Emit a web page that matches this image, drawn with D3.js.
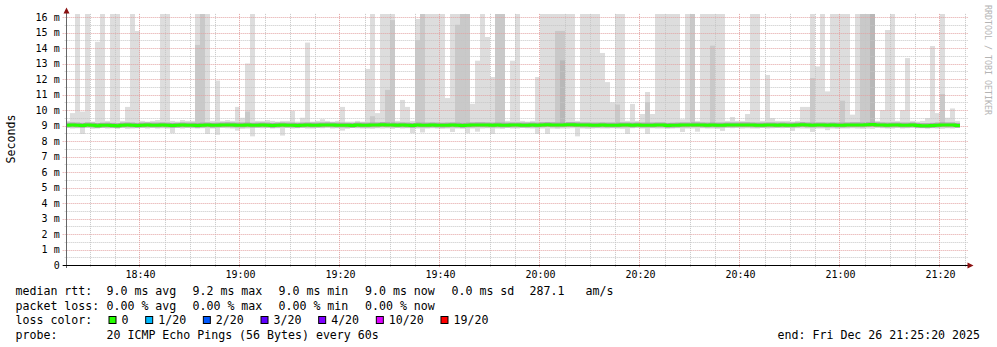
<!DOCTYPE html>
<html>
<head>
<meta charset="utf-8">
<script src="https://cdn.jsdelivr.net/npm/d3@7"></script>
<style>
  body { margin: 0; background: #fff; }
  svg text { font-family: "DejaVu Sans Mono", monospace; fill: #000; }
</style>
</head>
<body>
<svg id="chart" width="997" height="347"></svg>
<script>
// one smoke column per minute, first column is the minute starting 18:25
const graphStart = Date.UTC(2025, 11, 26, 18, 25, 20);
const graphEnd = Date.UTC(2025, 11, 26, 21, 25, 20);
const firstMinute = Date.UTC(2025, 11, 26, 18, 25, 0);

// highest ping of each minute (ms), tall ones are cut off by the graph top
const smokeHi = [
  9.3, 9.8, 16.2, 9.9, 16.2, 9.25, 14.4, 16.2, 9.3, 16.2,
  16.2, 9.3, 10.2, 16.2, 15.1, 9.3, 9.25, 9.3, 9.35, 16.2,
  16.2, 9.3, 9.25, 9.35, 9.3, 9.3, 16.2, 16.2, 16.2, 9.3,
  11.9, 9.3, 9.35, 9.3, 10.2, 9.5, 13.0, 16.2, 9.3, 9.3,
  9.35, 9.3, 9.25, 9.3, 9.3, 9.95, 9.25, 9.5, 14.35, 9.25,
  9.3, 9.4, 9.3, 9.25, 9.3, 10.2, 9.25, 9.25, 9.3, 9.25,
  12.65, 16.2, 9.8, 16.2, 16.2, 16.2, 9.3, 10.65, 10.2, 9.3,
  15.87, 16.2, 16.2, 16.2, 16.2, 16.2, 10.77, 16.2, 16.2, 16.2,
  16.2, 10.4, 13.18, 16.2, 14.71, 12.13, 16.2, 16.2, 9.3, 13.18,
  16.2, 9.3, 9.25, 9.3, 12.13, 16.2, 16.2, 16.2, 16.2, 16.2,
  16.2, 16.2, 9.3, 16.2, 16.2, 16.2, 16.2, 13.68, 11.8, 10.5,
  16.2, 16.2, 9.3, 10.39, 9.3, 9.74, 11.16, 9.74, 16.2, 16.2,
  16.2, 16.2, 16.2, 9.4, 16.2, 16.2, 9.3, 16.2, 16.2, 16.2,
  16.2, 16.2, 9.3, 9.55, 9.3, 9.3, 9.74, 16.2, 16.2, 9.3,
  12.26, 9.48, 9.3, 9.3, 9.3, 9.25, 9.3, 10.2, 10.2, 16.2,
  12.81, 16.2, 11.2, 16.2, 16.2, 16.2, 16.2, 9.7, 16.2, 16.2,
  16.2, 16.2, 9.3, 10.0, 15.16, 16.2, 9.3, 10.0, 13.35, 9.3,
  9.25, 9.3, 9.48, 14.13, 9.8, 16.2, 9.5, 10.1, 9.3
];

// lowest ping of each minute (ms)
const smokeLo = [
  8.85, 8.8, 8.82, 8.45, 8.85, 8.78, 8.8, 8.85, 8.8, 8.82,
  8.8, 8.85, 8.78, 8.8, 8.82, 8.85, 8.8, 8.85, 8.8, 8.82,
  8.8, 8.5, 8.85, 8.8, 8.85, 8.82, 8.8, 8.82, 8.45, 8.8,
  8.4, 8.85, 8.82, 8.8, 8.67, 8.78, 8.8, 8.3, 8.85, 8.82,
  8.85, 8.8, 8.82, 8.35, 8.85, 8.8, 8.82, 8.85, 8.8, 8.8,
  8.85, 8.82, 8.85, 8.8, 8.82, 8.67, 8.78, 8.85, 8.82, 8.8,
  8.8, 8.78, 8.82, 8.8, 8.82, 8.78, 8.85, 8.8, 8.82, 8.5,
  8.8, 8.55, 8.8, 8.82, 8.8, 8.78, 8.8, 8.58, 8.8, 8.78,
  8.5, 8.8, 8.6, 8.8, 8.82, 8.45, 8.8, 8.78, 8.85, 8.8,
  8.8, 8.85, 8.82, 8.8, 8.45, 8.8, 8.45, 8.8, 8.78, 8.8,
  8.8, 8.82, 8.3, 8.8, 8.78, 8.8, 8.82, 8.8, 8.8, 8.82,
  8.8, 8.78, 8.45, 8.82, 8.85, 8.8, 8.45, 8.82, 8.8, 8.8,
  8.78, 8.8, 8.82, 8.58, 8.8, 8.8, 8.6, 8.82, 8.8, 8.8,
  8.78, 8.65, 8.85, 8.82, 8.85, 8.8, 8.82, 8.8, 8.8, 8.85,
  8.8, 8.82, 8.85, 8.82, 8.85, 8.65, 8.82, 8.8, 8.8, 8.58,
  8.8, 8.8, 8.7, 8.8, 8.78, 8.8, 8.8, 8.82, 8.8, 8.78,
  8.8, 8.78, 8.85, 8.82, 8.8, 8.8, 8.85, 8.8, 8.82, 8.85,
  8.82, 8.85, 8.8, 8.82, 8.8, 8.78, 8.82, 8.8, 8.85
];

// median rtt of each minute (ms)
const medianRtt = [
  9.02, 9.03, 9.02, 9.0, 9.03, 9.02, 8.99, 9.01, 9.02, 9.0,
  8.98, 9.02, 9.03, 9.02, 9.0, 9.02, 9.03, 9.02, 9.02, 9.03,
  9.02, 9.0, 9.01, 9.03, 9.02, 9.02, 9.0, 9.02, 9.03, 9.01,
  9.02, 9.03, 9.04, 9.03, 9.02, 9.02, 9.03, 9.01, 9.02, 9.03,
  9.02, 9.0, 9.02, 9.03, 9.02, 9.02, 9.0, 9.02, 9.03, 9.02,
  9.02, 9.03, 9.04, 9.03, 9.02, 9.02, 9.01, 9.0, 9.03, 9.02,
  9.02, 9.03, 9.03, 9.05, 9.04, 9.03, 9.02, 9.03, 9.02, 9.0,
  9.03, 9.02, 9.02, 9.03, 9.02, 9.01, 9.02, 9.03, 9.02, 9.0,
  9.02, 9.03, 9.04, 9.04, 9.03, 9.02, 9.03, 9.02, 9.02, 9.03,
  9.03, 9.02, 9.02, 9.03, 9.02, 9.04, 9.05, 9.04, 9.03, 9.04,
  9.05, 9.05, 9.04, 9.03, 9.03, 9.02, 9.02, 9.03, 9.02, 9.02,
  9.02, 9.03, 9.03, 9.02, 9.03, 9.02, 9.02, 9.02, 9.03, 9.03,
  9.0, 9.01, 9.02, 9.03, 9.03, 9.04, 9.04, 9.03, 9.02, 9.03,
  9.02, 9.02, 9.03, 9.03, 9.03, 9.04, 9.04, 9.03, 9.02, 9.02,
  9.03, 9.03, 9.02, 9.03, 9.02, 9.02, 9.03, 9.05, 9.03, 9.02,
  9.03, 9.03, 9.02, 9.03, 9.02, 9.02, 9.03, 9.04, 9.04, 9.03,
  9.05, 9.06, 9.04, 9.03, 9.02, 9.03, 9.03, 9.02, 9.02, 9.03,
  9.0, 8.98, 8.98, 9.0, 9.02, 9.04, 9.03, 9.03, 9.0
];

// second smoke layer: [column, top ms] where more than one ping was slow
const innerTop = [
  [26, 14.2], [27, 16.2], [36, 9.9], [61, 9.6], [64, 11.3], [65, 15.8],
  [70, 14.5], [71, 16.2], [78, 15.5], [79, 16.2], [80, 16.2], [86, 16.2],
  [87, 16.2], [98, 15.1], [99, 15.1], [110, 10.35], [116, 10.5], [125, 16.2],
  [129, 14.15], [149, 12.06], [155, 10.6], [159, 16.2], [160, 16.2],
  [161, 16.2], [175, 11.03]
];
// third smoke layer
const deepTop = [[99, 13.2], [161, 16.2]];

const yTicks = [0, 1, 2, 3, 4, 5, 6, 7, 8, 9, 10, 11, 12, 13, 14, 15, 16];
const xTickLabels = ["18:40", "19:00", "19:20", "19:40", "20:00", "20:20", "20:40", "21:00", "21:20"];

const lossLabels = ["0", "1/20", "2/20", "3/20", "4/20", "10/20", "19/20"];
const lossColors = ["#26ff00", "#00b8ff", "#0059ff", "#5e00ff", "#7e00ff", "#dd00ff", "#ff0000"];

const rttStats = ["9.0 ms avg", "9.2 ms max", "9.0 ms min", "9.0 ms now", "0.0 ms sd", "287.1", "am/s"];
const lossStats = ["0.00 % avg", "0.00 % max", "0.00 % min", "0.00 % now"];
const probeText = "20 ICMP Echo Pings (56 Bytes) every 60s";
const endLabel = "end: Fri Dec 26 21:25:20 2025";

const svg = d3.select("#chart");
const left = 66.67, right = 966.67, bottom = 265;

const x = d3.scaleUtc().domain([graphStart, graphEnd]).range([left, right]);
const y = d3.scaleLinear().domain([0, 16.2]).range([bottom, bottom - 16.2 * 15.5]);

svg.append("rect").attr("width", 997).attr("height", 347).attr("fill", "#fff");

svg.append("clipPath").attr("id", "plot")
  .append("rect")
  .attr("x", left).attr("y", y(16.2))
  .attr("width", right - left).attr("height", bottom - y(16.2));

const colStart = i => firstMinute + i * 60000;
const colX = i => x(colStart(i));
const colW = i => x(colStart(i + 1)) - x(colStart(i));

const smoke = svg.append("g").attr("clip-path", "url(#plot)");

smoke.selectAll("rect.outer")
  .data(smokeHi)
  .join("rect")
  .attr("class", "outer")
  .attr("x", (d, i) => colX(i))
  .attr("width", (d, i) => colW(i))
  .attr("y", d => y(d))
  .attr("height", (d, i) => y(smokeLo[i]) - y(d))
  .attr("fill", "#dddddd");

smoke.selectAll("rect.inner")
  .data(innerTop)
  .join("rect")
  .attr("class", "inner")
  .attr("x", d => colX(d[0]))
  .attr("width", d => colW(d[0]))
  .attr("y", d => y(d[1]))
  .attr("height", d => y(medianRtt[d[0]]) - y(d[1]))
  .attr("fill", "#c9c9c9");

smoke.selectAll("rect.deep")
  .data(deepTop)
  .join("rect")
  .attr("class", "deep")
  .attr("x", d => colX(d[0]))
  .attr("width", d => colW(d[0]))
  .attr("y", d => y(d[1]))
  .attr("height", d => y(medianRtt[d[0]]) - y(d[1]))
  .attr("fill", "#b8b8b8");

// dark core of the smoke around the median
smoke.selectAll("rect.core")
  .data(medianRtt)
  .join("rect")
  .attr("class", "core")
  .attr("x", (d, i) => colX(i))
  .attr("width", (d, i) => colW(i))
  .attr("y", d => y(d + 0.17))
  .attr("height", d => y(d - 0.15) - y(d + 0.17))
  .attr("fill", "#a9a9a9");

// grid
const grid = svg.append("g");
const halfSteps = d3.range(0, 16.01, 0.5);
grid.selectAll("line.hmin")
  .data(halfSteps.filter(v => v % 1 !== 0))
  .join("line")
  .attr("x1", left - 2).attr("x2", right + 1)
  .attr("y1", d => Math.round(y(d)) + 0.5).attr("y2", d => Math.round(y(d)) + 0.5)
  .attr("stroke", "#c6c6c6").attr("stroke-dasharray", "1,1");

const fiveMin = d3.utcMinute.every(5).range(graphStart, graphEnd + 1);
grid.selectAll("line.vmin")
  .data(fiveMin.filter(t => t.getUTCMinutes() % 20 !== 0))
  .join("line")
  .attr("x1", d => Math.round(x(d)) + 0.5).attr("x2", d => Math.round(x(d)) + 0.5)
  .attr("y1", y(16.2)).attr("y2", bottom + 2)
  .attr("stroke", "#c6c6c6").attr("stroke-dasharray", "1,1");

grid.selectAll("line.hmaj")
  .data(yTicks.slice(1))
  .join("line")
  .attr("x1", left - 4).attr("x2", right + 1)
  .attr("y1", d => Math.round(y(d)) + 0.5).attr("y2", d => Math.round(y(d)) + 0.5)
  .attr("stroke", "#e3a3a3").attr("stroke-dasharray", "1,1");

grid.selectAll("line.vmaj")
  .data(fiveMin.filter(t => t.getUTCMinutes() % 20 === 0))
  .join("line")
  .attr("x1", d => Math.round(x(d)) - 0.5).attr("x2", d => Math.round(x(d)) - 0.5)
  .attr("y1", y(16.2)).attr("y2", bottom + 3)
  .attr("stroke", "#e3a3a3").attr("stroke-dasharray", "1,1");

// median line
const medPts = medianRtt.map((d, i) => [colX(i), d]);
medPts.push([colX(medianRtt.length), medianRtt[medianRtt.length - 1]]);
svg.append("path")
  .attr("clip-path", "url(#plot)")
  .datum(medPts)
  .attr("fill", "none")
  .attr("stroke", lossColors[0])
  .attr("stroke-width", 3)
  .attr("d", d3.line().x(d => Math.max(left, d[0])).y(d => y(d[1])).curve(d3.curveStepAfter));

// axes lines and arrows
svg.append("line")
  .attr("x1", left - 0.17).attr("x2", left - 0.17)
  .attr("y1", bottom + 3).attr("y2", 12)
  .attr("stroke", "#666");
svg.append("line")
  .attr("x1", left - 4).attr("x2", right + 2)
  .attr("y1", bottom + 0.5).attr("y2", bottom + 0.5)
  .attr("stroke", "#000");
svg.append("path").attr("d", "M63.5,13.5L66.5,7.5L69.5,13.5Z").attr("fill", "#8b1010");
svg.append("path").attr("d", "M967.5,262.5L973.5,265.5L967.5,268.5Z").attr("fill", "#8b1010");

// y axis labels
const yAxis = svg.append("g")
  .attr("transform", `translate(${left},0)`)
  .call(d3.axisLeft(y).tickValues(yTicks).tickSize(0).tickPadding(7)
    .tickFormat(d => d === 0 ? "0" : d + " m"));
yAxis.select(".domain").remove();
yAxis.selectAll("text").attr("font-size", 10).attr("font-family", "DejaVu Sans Mono");

// x axis labels
const xTickTimes = xTickLabels.map(s => {
  const [h, m] = s.split(":").map(Number);
  return new Date(Date.UTC(2025, 11, 26, h, m, 0));
});
const xAxis = svg.append("g")
  .attr("transform", `translate(0,${bottom})`)
  .call(d3.axisBottom(x).tickValues(xTickTimes).tickSize(0).tickPadding(6)
    .tickFormat((d, i) => xTickLabels[i]));
xAxis.select(".domain").remove();
xAxis.selectAll("text").attr("font-size", 10).attr("font-family", "DejaVu Sans Mono");

// y title
svg.append("text")
  .attr("transform", "translate(15,139) rotate(-90)")
  .attr("text-anchor", "middle")
  .attr("font-size", 11.6)
  .text("Seconds");

// watermark
svg.append("text")
  .attr("transform", "translate(984.5,5) rotate(90)")
  .attr("font-size", 8.3)
  .style("fill", "#b4b4b4")
  .text("RRDTOOL / TOBI OETIKER");

// legend: rrdtool places each legend item on its own, so columns are fixed
const legend = svg.append("g").attr("font-size", 11.6);
const itemX = [107, 193, 279, 365.5, 452, 530, 586];
const rowY = [295, 309.5, 324, 338.5];
const put = (s, px, py) => legend.append("text").attr("x", px).attr("y", py).text(s);

put("median rtt:", 15.5, rowY[0]);
rttStats.forEach((s, i) => put(s, itemX[i] - 0.5, rowY[0]));
put("packet loss:", 15.5, rowY[1]);
lossStats.forEach((s, i) => put(s, itemX[i] - 0.5, rowY[1]));
put("loss color:", 15.5, rowY[2]);
let bx = 108.5;
lossLabels.forEach((lab, i) => {
  legend.append("rect")
    .attr("x", bx + 0.5).attr("y", 316.5).attr("width", 7).attr("height", 7)
    .attr("fill", lossColors[i]).attr("stroke", "#000");
  put(lab, bx + 13, rowY[2]);
  bx += 13 + lab.length * 6.99 + 16.7;
});
put("probe:", 15.5, rowY[3]);
put(probeText, itemX[0] - 0.5, rowY[3]);
legend.append("text")
  .attr("x", 980).attr("y", rowY[3])
  .attr("text-anchor", "end")
  .text(endLabel);
</script>
</body>
</html>
